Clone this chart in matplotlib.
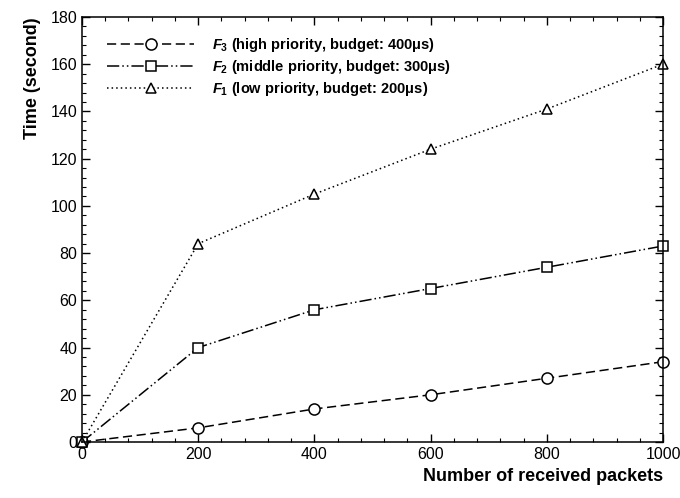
import numpy as np
import matplotlib.pyplot as plt
from matplotlib.ticker import MultipleLocator

plt.rcParams['font.family'] = ['Liberation Sans', 'DejaVu Sans']
plt.rcParams['mathtext.fontset'] = 'custom'
plt.rcParams['mathtext.rm'] = 'Liberation Sans:bold'
plt.rcParams['mathtext.it'] = 'Liberation Sans:bold:italic'
plt.rcParams['mathtext.bf'] = 'Liberation Sans:bold'

packets = [0, 200, 400, 600, 800, 1000]
f3_time = [0, 6, 14, 20, 27, 34]
f2_time = [0, 40, 56, 65, 74, 83]
f1_time = [0, 84, 105, 124, 141, 160]

lab3 = r'$\mathit{F}_3$ (high priority, budget: 400$\mathrm{\mu}$s)'
lab2 = r'$\mathit{F}_2$ (middle priority, budget: 300$\mathrm{\mu}$s)'
lab1 = r'$\mathit{F}_1$ (low priority, budget: 200$\mathrm{\mu}$s)'

fig = plt.figure(figsize=(6.8, 4.98), dpi=100)
ax = fig.add_axes([0.1206, 0.1124, 0.8544, 0.8536])

ax.plot(packets, f3_time, color='black', lw=1.1, dashes=(6, 3), clip_on=False,
        marker='o', ms=8, mfc='white', mec='black', mew=1.1, label=lab3)
ax.plot(packets, f2_time, color='black', lw=1.1, dashes=(8, 2, 1, 2, 1, 2), clip_on=False,
        marker='s', ms=7, mfc='white', mec='black', mew=1.1, label=lab2)
ax.plot(packets, f1_time, color='black', lw=1.1, dashes=(1, 2), clip_on=False,
        marker='^', ms=7, mfc='white', mec='black', mew=1.1, label=lab1)

ax.set_xlim(0, 1000)
ax.set_ylim(0, 180)
ax.xaxis.set_major_locator(MultipleLocator(200))
ax.xaxis.set_minor_locator(MultipleLocator(40))
ax.yaxis.set_major_locator(MultipleLocator(20))
ax.yaxis.set_minor_locator(MultipleLocator(4))
ax.tick_params(which='both', direction='in', top=True, right=True, labelsize=11.5)
ax.tick_params(which='major', length=6, width=1)
ax.tick_params(which='minor', length=3, width=0.8)
for s in ax.spines.values():
    s.set_linewidth(1.1)

ax.set_xlabel('Number of received packets', fontsize=13, fontweight='bold')
ax.xaxis.set_label_coords(1.0, -0.06)
ax.xaxis.label.set_horizontalalignment('right')
ax.set_ylabel('Time (second)', fontsize=13, fontweight='bold')
ax.yaxis.set_label_coords(-0.1, 1.0)
ax.yaxis.label.set_verticalalignment('top')
ax.yaxis.label.set_horizontalalignment('right')

leg = ax.legend(loc='upper left', frameon=False, fontsize=10.5,
                handlelength=6.0, handletextpad=1.2,
                bbox_to_anchor=(0.02, 0.985), labelspacing=0.25)
for t in leg.get_texts():
    t.set_fontweight('bold')

fig.savefig('out.png', dpi=100)
